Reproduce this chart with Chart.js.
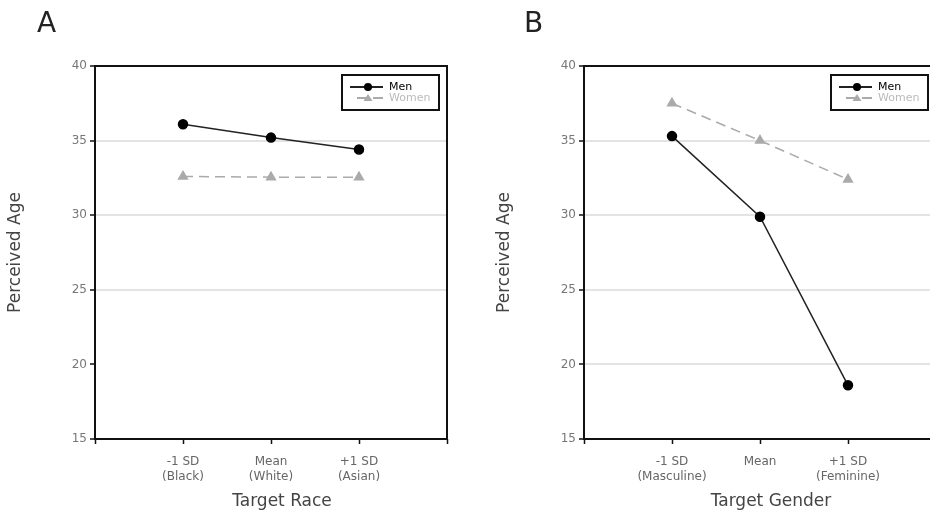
<!DOCTYPE html>
<html>
<head>
<meta charset="utf-8">
<script src="https://cdn.jsdelivr.net/npm/chart.js@4.4.0/dist/chart.umd.min.js"></script>
<style>
  html, body { margin: 0; padding: 0; background: #fff; overflow: hidden; }
  body { width: 930px; height: 514px; position: relative; }
  .panel { position: absolute; top: 0; width: 465px; height: 514px; }
  .letter { position: absolute; top: 9px; font: 28px "DejaVu Sans"; line-height: 28px; color: #222; }
</style>
</head>
<body>
<div class="panel" style="left:0"><canvas id="chartA" width="465" height="514"></canvas></div>
<div class="panel" style="left:489px"><canvas id="chartB" width="465" height="514"></canvas></div>
<div class="letter" style="left:37px">A</div>
<div class="letter" style="left:524px">B</div>
<script>
// Data
const seriesNames = ['Men', 'Women'];
const raceLabels = [['-1 SD', '(Black)'], ['Mean', '(White)'], ['+1 SD', '(Asian)']];
const raceMen = [36.1, 35.2, 34.4];
const raceWomen = [32.6, 32.55, 32.55];
const genderLabels = [['-1 SD', '(Masculine)'], 'Mean', ['+1 SD', '(Feminine)']];
const genderMen = [35.3, 29.9, 18.6];
const genderWomen = [37.5, 35.0, 32.4];
const yTicks = [15, 20, 25, 30, 35, 40];
const gridA = [25, 30, 35];
const gridB = [20, 25, 30, 35];

const FONT = '"DejaVu Sans", sans-serif';

// Frame around the plot area, the boxed legend, and the x axis title
const boxLegend = {
    id: 'boxLegend',
    afterDatasetsDraw(chart, args, opts) {
        const ctx = chart.ctx, a = chart.chartArea;
        ctx.save();
        ctx.strokeStyle = '#111';
        ctx.lineWidth = 2;
        ctx.strokeRect(a.left, a.top, a.right - a.left, a.bottom - a.top);

        const w = 97, h = 35;
        const x0 = a.right - 8 - w, y0 = a.top + 9;
        ctx.strokeRect(x0, y0, w, h);

        chart.data.datasets.forEach((ds, i) => {
            const y = y0 + 12 + i * 11;
            const cx = x0 + 26;
            ctx.setLineDash(ds.borderDash || []);
            ctx.strokeStyle = ds.borderColor;
            ctx.lineWidth = 2;
            ctx.beginPath();
            ctx.moveTo(x0 + (i ? 15 : 8), y);
            ctx.lineTo(x0 + 41, y);
            ctx.stroke();
            ctx.setLineDash([]);
            ctx.fillStyle = ds.pointBackgroundColor;
            ctx.beginPath();
            if (ds.pointStyle === 'triangle') {
                ctx.moveTo(cx, y - 4);
                ctx.lineTo(cx + 4.5, y + 3);
                ctx.lineTo(cx - 4.5, y + 3);
                ctx.closePath();
            } else {
                ctx.arc(cx, y, 4, 0, Math.PI * 2);
            }
            ctx.fill();
            ctx.fillStyle = ds.legendColor;
            ctx.font = '11px ' + FONT;
            ctx.textBaseline = 'middle';
            ctx.textAlign = 'left';
            ctx.fillText(ds.label, x0 + 47, y);
        });

        // x axis title, sitting a little right of the plot centre as in the figure
        ctx.fillStyle = '#444';
        ctx.font = '17px ' + FONT;
        ctx.textAlign = 'center';
        ctx.textBaseline = 'middle';
        ctx.fillText(opts.xTitle, (a.left + a.right) / 2 + 11, 502);
        ctx.restore();
    }
};

function makeConfig(labels, men, women, gridValues, xTitle) {
    return {
        type: 'line',
        data: {
            datasets: [{
                label: seriesNames[0],
                data: men.map((v, i) => ({ x: i + 1, y: v })),
                borderColor: '#222',
                borderWidth: 1.5,
                pointStyle: 'circle',
                pointRadius: 4.5,
                pointBackgroundColor: '#000',
                pointBorderColor: '#000',
                legendColor: '#000',
                tension: 0
            }, {
                label: seriesNames[1],
                data: women.map((v, i) => ({ x: i + 1, y: v })),
                borderColor: '#aaa',
                borderWidth: 1.5,
                borderDash: [10, 6],
                pointStyle: 'triangle',
                pointRadius: 5,
                pointBackgroundColor: '#aaa',
                pointBorderColor: '#aaa',
                legendColor: '#bbb',
                tension: 0
            }]
        },
        options: {
            responsive: false,
            animation: false,
            layout: { padding: { top: 66, right: 18, bottom: 0, left: 0 } },
            plugins: {
                legend: { display: false },
                tooltip: { enabled: false },
                boxLegend: { xTitle: xTitle }
            },
            scales: {
                x: {
                    type: 'linear',
                    min: 0,
                    max: 4,
                    afterFit: (s) => { s.height = 75; },
                    border: { display: false },
                    grid: { drawOnChartArea: false, tickLength: 5, tickColor: '#111', tickWidth: 1.5 },
                    ticks: {
                        stepSize: 1,
                        autoSkip: false,
                        maxRotation: 0,
                        padding: 11,
                        color: '#666',
                        font: { family: FONT, size: 12, lineHeight: 1.2 },
                        callback: (v) => labels[v - 1] || ''
                    }
                },
                y: {
                    min: yTicks[0],
                    max: yTicks[yTicks.length - 1],
                    afterFit: (s) => { s.width = 95; },
                    border: { display: false },
                    grid: {
                        color: (c) => gridValues.includes(c.tick.value) ? '#e3e3e3' : 'rgba(0,0,0,0)',
                        lineWidth: 2,
                        tickLength: 5,
                        tickColor: '#111',
                        tickWidth: 1.5
                    },
                    ticks: {
                        stepSize: 5,
                        padding: 3,
                        color: '#777',
                        font: { family: FONT, size: 12 }
                    },
                    title: {
                        display: true,
                        text: 'Perceived Age',
                        color: '#444',
                        font: { family: FONT, size: 17 },
                        padding: { top: 5, bottom: 0 }
                    }
                }
            }
        },
        plugins: [boxLegend]
    };
}

new Chart(document.getElementById('chartA'),
    makeConfig(raceLabels, raceMen, raceWomen, gridA, 'Target Race'));
new Chart(document.getElementById('chartB'),
    makeConfig(genderLabels, genderMen, genderWomen, gridB, 'Target Gender'));
</script>
</body>
</html>
